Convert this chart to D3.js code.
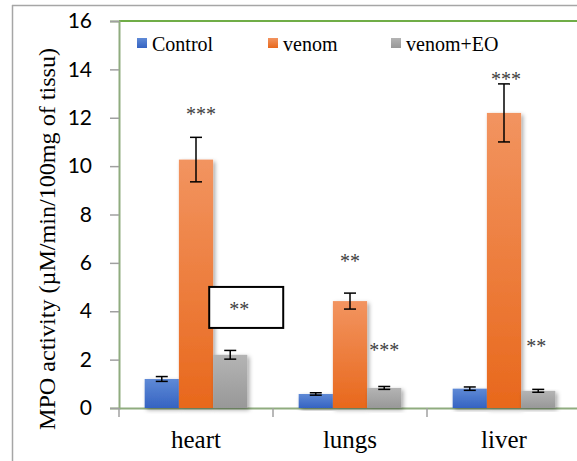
<!DOCTYPE html>
<meta charset="utf-8">
<script src="https://d3js.org/d3.v7.min.js"></script>
<style>
  body { margin: 0; background: #fff; }
</style>
<div id="chart"></div>
<script>
// data
var organs = ["heart", "lungs", "liver"];
var groups = ["Control", "venom", "venom+EO"];
var control = [1.2, 0.58, 0.8];
var controlErr = [0.1, 0.05, 0.07];
var venom = [10.27, 4.42, 12.2];
var venomErr = [0.92, 0.33, 1.2];
var venomEO = [2.2, 0.83, 0.71];
var venomEOErr = [0.18, 0.06, 0.06];
var stars = [["", "***", "**"], ["", "**", "***"], ["", "***", "**"]]; // [organ][group]
var yTicks = [0, 2, 4, 6, 8, 10, 12, 14, 16];

var colors = {
  "Control": ["#5f8ad6", "#3563c2"],
  "venom": ["#f29460", "#e8681c"],
  "venom+EO": ["#b4b4b4", "#989898"]
};

var W = 577, H = 461;
var svg = d3.select("#chart").append("svg")
  .attr("width", W).attr("height", H)
  .style("font-family", "'Liberation Serif', 'Times New Roman', serif");

var defs = svg.append("defs");
groups.forEach(function(g, i) {
  var lg = defs.append("linearGradient").attr("id", "grad" + i)
    .attr("x1", 0).attr("y1", 0).attr("x2", 0).attr("y2", 1);
  lg.append("stop").attr("offset", "0%").attr("stop-color", colors[g][0]);
  lg.append("stop").attr("offset", "100%").attr("stop-color", colors[g][1]);
});
var f = defs.append("filter").attr("id", "shadow")
  .attr("x", "-20%").attr("y", "-10%").attr("width", "150%").attr("height", "130%");
f.append("feDropShadow").attr("dx", 2).attr("dy", 2).attr("stdDeviation", 2)
  .attr("flood-color", "#000").attr("flood-opacity", 0.35);

// outer frame
svg.append("line").attr("x1", 12).attr("x2", W).attr("y1", 5.5).attr("y2", 5.5)
  .attr("stroke", "#a6a6a6").attr("stroke-width", 1.5);
svg.append("line").attr("x1", 12.5).attr("x2", 12.5).attr("y1", 5).attr("y2", H)
  .attr("stroke", "#a6a6a6").attr("stroke-width", 1.5);

var plotLeft = 119, plotTop = 21, plotBottom = 408, band = 154;

var x = d3.scaleBand().domain(organs).range([plotLeft, plotLeft + band * 3]).paddingInner(0).paddingOuter(0);
var xs = d3.scaleBand().domain(groups).range([0, band]).paddingInner(0).paddingOuter(0.75);
var y = d3.scaleLinear().domain([0, 16]).range([plotBottom, plotTop]);

// top green line
svg.append("line").attr("x1", plotLeft).attr("x2", W).attr("y1", plotTop).attr("y2", plotTop)
  .attr("stroke", "#70ad47").attr("stroke-width", 2);

// y axis
var yAxis = svg.append("g").attr("transform", "translate(" + plotLeft + ",0)")
  .call(d3.axisLeft(y).tickValues(yTicks).tickSize(9).tickPadding(18));
yAxis.select(".domain").attr("stroke", "#8fac7f").attr("stroke-width", 2);
yAxis.selectAll(".tick line").attr("stroke", "#a0a0a0").attr("stroke-width", 1.5);
yAxis.selectAll(".tick text")
  .style("font-family", "Lato, 'Open Sans', sans-serif")
  .style("font-size", "21px").attr("fill", "#000");

// x axis
var xAxis = svg.append("g").attr("transform", "translate(0," + plotBottom + ")")
  .call(d3.axisBottom(x).tickSize(0).tickPadding(22));
xAxis.select(".domain").attr("stroke", "#8fac7f").attr("stroke-width", 2);
xAxis.selectAll(".tick text")
  .style("font-family", "'Liberation Serif', serif")
  .style("font-size", "25px").attr("fill", "#000");
// category separator ticks
svg.selectAll(".septick").data(d3.range(0, 3)).enter().append("line")
  .attr("x1", function(d) { return plotLeft + d * band; })
  .attr("x2", function(d) { return plotLeft + d * band; })
  .attr("y1", plotBottom).attr("y2", plotBottom + 9)
  .attr("stroke", "#a0a0a0").attr("stroke-width", 1.5);

// bars
var series = [control, venom, venomEO];
var errs = [controlErr, venomErr, venomEOErr];
var rows = [];
organs.forEach(function(o, i) {
  groups.forEach(function(g, j) {
    rows.push({organ: o, group: g, gi: j, value: series[j][i], err: errs[j][i], star: stars[i][j]});
  });
});

svg.append("g").selectAll("rect").data(rows).enter().append("rect")
  .attr("x", function(d) { return x(d.organ) + xs(d.group); })
  .attr("y", function(d) { return y(d.value); })
  .attr("width", xs.bandwidth())
  .attr("height", function(d) { return plotBottom - y(d.value); })
  .attr("fill", function(d) { return "url(#grad" + d.gi + ")"; })
  .attr("filter", "url(#shadow)");

// error bars
var eb = svg.append("g").selectAll("g").data(rows).enter().append("g")
  .attr("stroke", "#000").attr("stroke-width", 1.5);
var cx = function(d) { return x(d.organ) + xs(d.group) + xs.bandwidth() / 2; };
eb.append("line")
  .attr("x1", cx).attr("x2", cx)
  .attr("y1", function(d) { return y(d.value + d.err); })
  .attr("y2", function(d) { return y(d.value - d.err); });
eb.append("line")
  .attr("x1", function(d) { return cx(d) - 6; }).attr("x2", function(d) { return cx(d) + 6; })
  .attr("y1", function(d) { return y(d.value + d.err); })
  .attr("y2", function(d) { return y(d.value + d.err); });
eb.append("line")
  .attr("x1", function(d) { return cx(d) - 6; }).attr("x2", function(d) { return cx(d) + 6; })
  .attr("y1", function(d) { return y(d.value - d.err); })
  .attr("y2", function(d) { return y(d.value - d.err); });

// significance stars: offset from error bar top [dx, dy]
var starOff = {
  "heart|venom": [5, -16],
  "heart|venom+EO": [9, -34],
  "lungs|venom": [0, -25],
  "liver|venom": [2, 2],
  "lungs|venom+EO": [0, -29],
  "liver|venom+EO": [-2, -36]
};
var sx = function(d) { return cx(d) + starOff[d.organ + "|" + d.group][0]; };
var sy = function(d) { return y(d.value + d.err) + starOff[d.organ + "|" + d.group][1]; };
var starRows = rows.filter(function(d) { return d.star; });

// the heart venom+EO mark sits in a box
svg.append("g").selectAll("rect")
  .data(starRows.filter(function(d) { return d.organ === "heart" && d.group === "venom+EO"; }))
  .enter().append("rect")
  .attr("x", function(d) { return sx(d) - 30; })
  .attr("y", function(d) { return sy(d) - 29.5; })
  .attr("width", 74).attr("height", 41)
  .attr("fill", "#fff").attr("stroke", "#000").attr("stroke-width", 2);

svg.append("g").selectAll("text").data(starRows)
  .enter().append("text")
  .attr("x", sx).attr("y", sy)
  .attr("text-anchor", "middle")
  .style("font-size", "20px").attr("fill", "#404040")
  .text(function(d) { return d.star; });

// legend
var legX = [137, 268, 391];
var leg = svg.append("g").selectAll("g").data(groups).enter().append("g")
  .attr("transform", function(d, i) { return "translate(" + legX[i] + ",38)"; });
leg.append("rect").attr("width", 10).attr("height", 10)
  .attr("fill", function(d, i) { return "url(#grad" + i + ")"; });
leg.append("text").attr("x", 15).attr("y", 13)
  .style("font-size", "20px").attr("fill", "#000")
  .text(function(d) { return d; });

// y title
svg.append("text")
  .attr("transform", "translate(55,239) rotate(-90)")
  .attr("text-anchor", "middle")
  .attr("textLength", 382).attr("lengthAdjust", "spacingAndGlyphs")
  .style("font-size", "23px").attr("fill", "#000")
  .text("MPO activity (µM/min/100mg of tissu)");
</script>
